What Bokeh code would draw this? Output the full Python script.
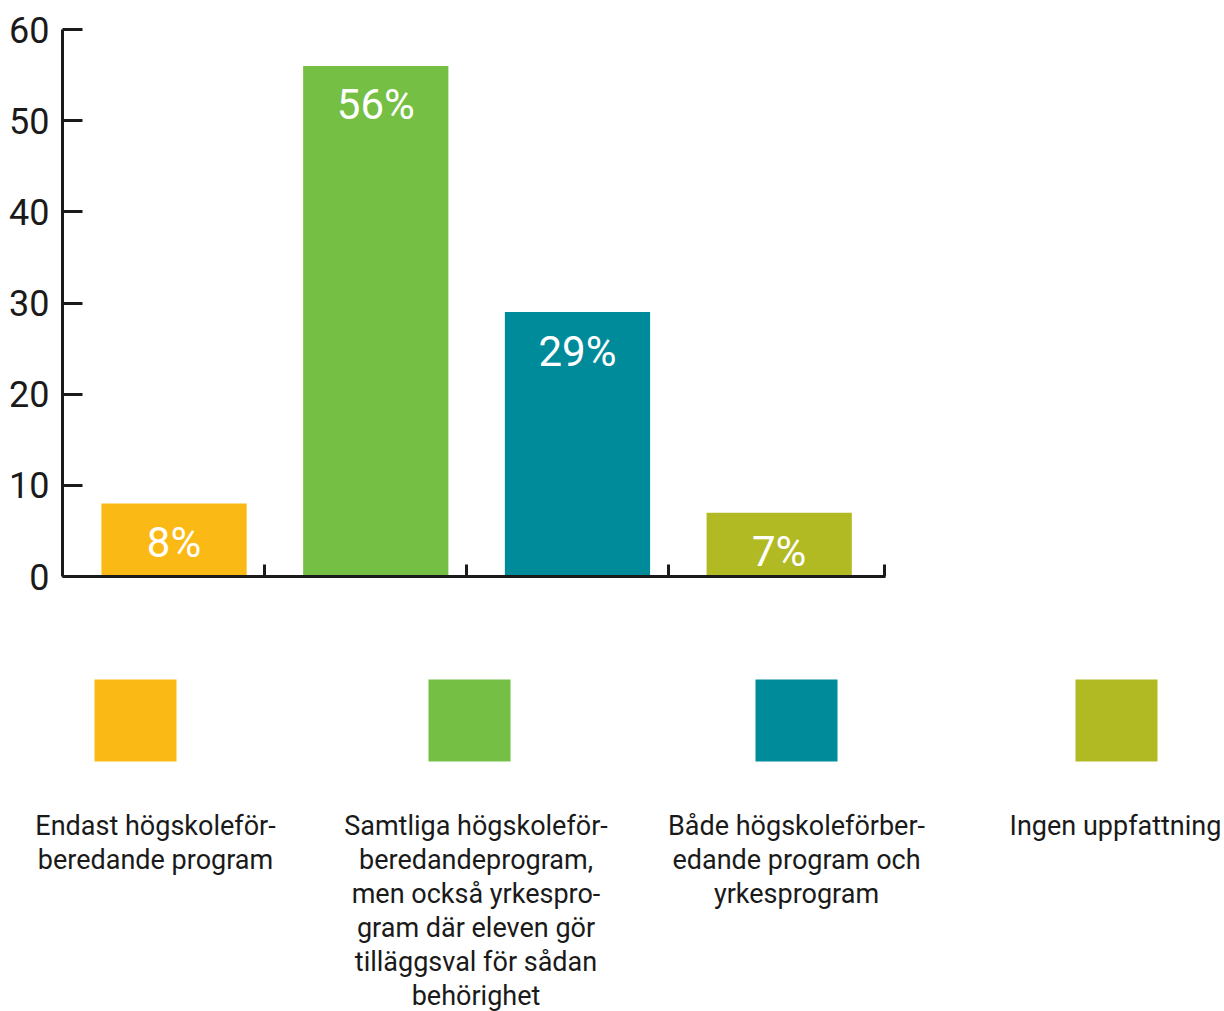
from bokeh.plotting import figure
from bokeh.models import Range1d, FixedTicker
from bokeh.embed import file_html
from bokeh.resources import INLINE
from bokeh.core.properties import value

# ---- data ----
categories = [
    "Endast högskoleför-\nberedande program",
    "Samtliga högskoleför-\nberedandeprogram,\nmen också yrkespro-\ngram där eleven gör\ntilläggsval för sådan\nbehörighet",
    "Både högskoleförber-\nedande program och\nyrkesprogram",
    "Ingen uppfattning",
]
values = [8, 56, 29, 7]
value_labels = ["8%", "56%", "29%", "7%"]
colors = ["#FBB916", "#74BF44", "#008B9B", "#B1BA22"]
y_ticks = [0, 10, 20, 30, 40, 50, 60]

# ---- layout / style ----
FONT = "Roboto"
INK = "#1a1a1a"
M = 0            # effective page offset (bokeh template sets body margin 0)
W = 1224
H1 = 610
H2 = 401

idx = list(range(len(values)))

p = figure(width=W, height=H1, output_backend="svg", toolbar_location=None,
           x_range=Range1d(-0.553, 3.527), y_range=Range1d(0, 60),
           min_border_left=62 - M, min_border_top=29 - M,
           min_border_bottom=H1 - (576 - M), min_border_right=W - (885 - M))
p.outline_line_color = None
p.grid.visible = False
p.background_fill_color = "white"
p.border_fill_color = "white"

p.vbar(x=idx, top=values, width=0.72, bottom=0, color=colors, line_color=None)
p.text(x=idx, y=values, text=value_labels, text_align="center",
       text_baseline="middle", y_offset=39, text_color="white",
       text_font=value(FONT), text_font_size="42px")

xa = p.xaxis[0]
xa.ticker = FixedTicker(ticks=[0.45, 1.45, 2.45, 3.52])
xa.major_label_text_font_size = "0px"
xa.major_label_overrides = {0.45: "", 1.45: "", 2.45: "", 3.52: ""}
xa.major_tick_in = 12
xa.major_tick_out = 0
xa.minor_tick_line_color = None
xa.axis_line_width = 3
xa.major_tick_line_width = 3
xa.axis_line_color = INK
xa.major_tick_line_color = INK

ya = p.yaxis[0]
ya.ticker = FixedTicker(ticks=y_ticks)
ya.major_tick_in = 20
ya.major_tick_out = 0
ya.minor_tick_line_color = None
ya.axis_line_width = 3
ya.major_tick_line_width = 3
ya.axis_line_color = INK
ya.major_tick_line_color = INK
ya.major_label_standoff = 13
ya.major_label_text_font = FONT
ya.major_label_text_font_size = "36px"
ya.major_label_text_color = INK

# ---- legend figure (coordinates = page pixels) ----
top2 = M + H1
q = figure(width=W, height=H2, output_backend="svg", toolbar_location=None,
           x_range=Range1d(M, M + W), y_range=Range1d(top2 + H2, top2),
           x_axis_type=None, y_axis_type=None, min_border=0)
q.outline_line_color = None
q.grid.visible = False
q.border_fill_color = "white"
q.background_fill_color = "white"

sq_x = [135, 469, 796, 1116]
sq_y = 720
q.rect(x=sq_x, y=[sq_y] * len(sq_x), width=82, height=82, color=colors, line_color=None)

txt_x = [155, 475.5, 796, 1115]
first_y = 825
spacing = 34
lx, ly, lt = [], [], []
for i, cat in enumerate(categories):
    for j, line in enumerate(cat.split("\n")):
        lx.append(txt_x[i])
        ly.append(first_y + j * spacing)
        lt.append(line)
q.text(x=lx, y=ly, text=lt, text_align="center", text_baseline="middle",
       text_color=INK, text_font=value(FONT), text_font_size="27px")

open("out.html", "w").write(file_html([p, q], INLINE))
